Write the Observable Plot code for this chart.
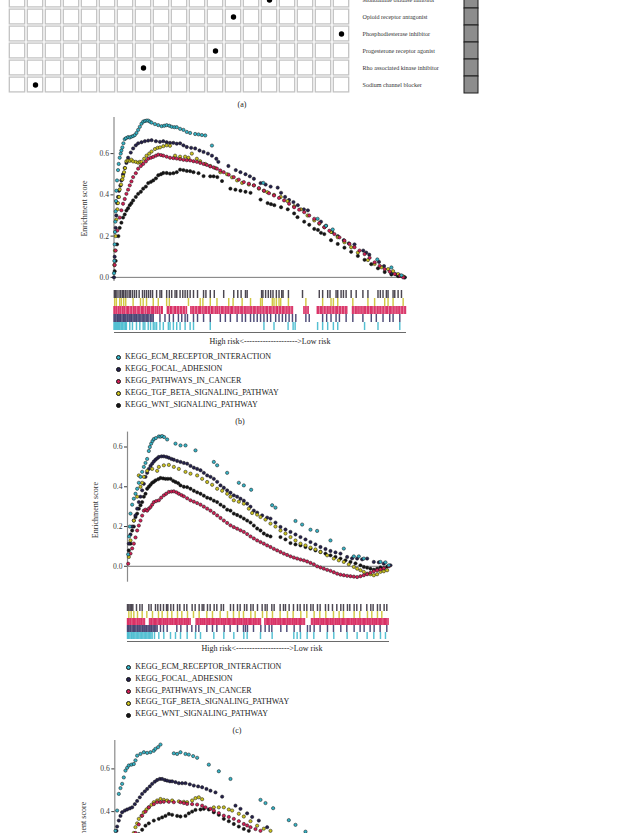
<!DOCTYPE html>
<html><head><meta charset="utf-8">
<script src="https://cdn.jsdelivr.net/npm/d3@7"></script>
<script src="https://cdn.jsdelivr.net/npm/@observablehq/plot@0.6"></script>
<style>
body{margin:0;background:#fff;}
#page{position:relative;width:620px;height:833px;overflow:hidden;font-family:"Liberation Serif",serif;color:#222;}
.abs{position:absolute;}
.lbl{position:absolute;font-size:8px;white-space:nowrap;transform:translate(-50%,-50%);}
.leg{position:absolute;font-size:8px;white-space:nowrap;line-height:1;}
.leg i{position:absolute;width:3px;height:3px;border-radius:50%;border:0.5px solid #111;}
</style></head><body><div id="page"></div>
<script>
// ---------- panel (a): drug / mechanism matrix ----------
const drugCols = ["D01","D02","D03","D04","D05","D06","D07","D08","D09","D10","D11","D12","D13","D14","D15","D16","D17","D18","D19"];
const moaRows = ["Monoamine oxidase inhibitor","Opioid receptor antagonist","Phosphodiesterase inhibitor","Progesterone receptor agonist","Rho associated kinase inhibitor","Sodium channel blocker"];
const moaHitCol = ["D15","D13","D19","D12","D08","D02"];

// ---------- gene sets ----------
const setNames = ["KEGG_ECM_RECEPTOR_INTERACTION","KEGG_FOCAL_ADHESION","KEGG_PATHWAYS_IN_CANCER","KEGG_TGF_BETA_SIGNALING_PATHWAY","KEGG_WNT_SIGNALING_PATHWAY"];
const setColors = ["#36b3c6","#25214c","#d21f55","#cbc21f","#151515"];
const barColors = ["#34b4c9","#2d2a5e","#d3124f","#c9bd22","#2a2430"];
const drawOrder = [4,1,3,2,0];

// ---------- panel (b) running enrichment scores: [rank, ES] ----------
const b_ECM = [[0,0.02],[1,0.08],[2,0.16],[3,0.22],[4,0.27],[5,0.32],[6,0.37],[7,0.42],[9,0.47],[12,0.52],[14,0.55],[17,0.58],[20,0.6],[22,0.615],[25,0.63],[28,0.65],[32,0.67],[36,0.675],[42,0.68],[47,0.678],[52,0.682],[57,0.685],[62,0.69],[67,0.70],[72,0.715],[77,0.73],[82,0.745],[87,0.755],[92,0.758],[97,0.76],[102,0.76],[107,0.755],[112,0.75],[122,0.743],[132,0.738],[142,0.733],[150,0.735],[157,0.738],[165,0.735],[172,0.73],[180,0.728],[187,0.728],[197,0.72],[207,0.715],[217,0.705],[227,0.70],[242,0.695],[252,0.693],[262,0.69],[272,0.688],[292,0.639],[445,0.458],[607,0.284],[632,0.25],[652,0.232],[785,0.087],[827,0.048],[857,0.01]];
const b_FOCAL = [[0,0.0],[2,0.1],[5,0.24],[7,0.3],[9,0.36],[12,0.39],[15,0.42],[19,0.445],[22,0.47],[27,0.5],[32,0.53],[37,0.555],[42,0.58],[50,0.605],[57,0.625],[65,0.64],[72,0.65],[82,0.655],[92,0.66],[102,0.663],[112,0.665],[125,0.66],[137,0.657],[147,0.66],[157,0.655],[167,0.652],[177,0.652],[187,0.648],[197,0.65],[207,0.64],[217,0.632],[230,0.628],[242,0.625],[255,0.615],[267,0.608],[280,0.6],[292,0.59],[305,0.575],[311,0.56],[341,0.54],[363,0.52],[377,0.51],[392,0.5],[405,0.49],[417,0.478],[437,0.457],[452,0.45],[467,0.44],[488,0.435],[498,0.41],[510,0.39],[522,0.375],[535,0.365],[548,0.35],[566,0.33],[578,0.325],[617,0.27],[632,0.25],[650,0.22],[667,0.2],[685,0.18],[700,0.165],[717,0.16],[743,0.13],[752,0.12],[761,0.11],[790,0.075],[805,0.055],[827,0.02],[840,0.015],[852,0.008],[866,0.0]];
const b_PATH = [[2,0.06],[5,0.13],[10,0.227],[17,0.29],[22,0.325],[27,0.357],[32,0.38],[37,0.405],[42,0.425],[47,0.446],[52,0.465],[57,0.486],[65,0.505],[72,0.527],[80,0.54],[87,0.55],[95,0.562],[102,0.575],[110,0.58],[117,0.584],[125,0.59],[132,0.595],[140,0.593],[147,0.59],[157,0.585],[167,0.58],[177,0.578],[187,0.576],[197,0.573],[207,0.57],[217,0.568],[227,0.567],[237,0.563],[247,0.56],[257,0.555],[267,0.55],[277,0.545],[287,0.538],[297,0.533],[307,0.527],[317,0.518],[327,0.51],[342,0.498],[357,0.486],[372,0.474],[387,0.462],[402,0.454],[417,0.446],[432,0.433],[447,0.42],[462,0.408],[477,0.397],[492,0.385],[507,0.373],[522,0.357],[537,0.34],[552,0.328],[567,0.316],[582,0.3],[597,0.284],[612,0.263],[627,0.243],[642,0.226],[657,0.21],[672,0.194],[687,0.178],[702,0.162],[717,0.146],[732,0.13],[747,0.113],[762,0.095],[777,0.073],[792,0.056],[807,0.04],[822,0.028],[837,0.016],[852,0.008],[862,0.0]];
const b_TGF = [[1,0.06],[3,0.13],[5,0.2],[7,0.28],[10,0.33],[12,0.36],[15,0.39],[17,0.426],[21,0.45],[25,0.475],[27,0.49],[30,0.51],[33,0.53],[37,0.563],[42,0.566],[47,0.565],[52,0.57],[57,0.562],[65,0.56],[72,0.556],[77,0.56],[82,0.56],[90,0.575],[97,0.59],[105,0.6],[112,0.61],[122,0.622],[130,0.628],[137,0.63],[147,0.636],[157,0.64],[167,0.638],[182,0.59],[197,0.585],[212,0.585],[222,0.58],[232,0.6],[247,0.575],[257,0.563],[272,0.55],[287,0.54],[302,0.53],[317,0.51],[337,0.5],[352,0.485],[367,0.47],[382,0.458],[402,0.45],[417,0.446],[432,0.43],[447,0.42],[457,0.413],[477,0.4],[497,0.39],[517,0.37],[537,0.345],[557,0.33],[577,0.3],[597,0.276],[612,0.26],[627,0.243],[647,0.22],[667,0.195],[687,0.17],[707,0.146],[727,0.12],[757,0.084],[777,0.065],[797,0.049],[817,0.04],[832,0.03],[847,0.016],[862,0.005]];
const b_WNT = [[2,0.03],[5,0.08],[9,0.16],[13,0.2],[17,0.24],[22,0.265],[27,0.29],[32,0.305],[37,0.324],[42,0.335],[47,0.35],[52,0.36],[57,0.373],[65,0.39],[72,0.405],[80,0.415],[87,0.43],[95,0.44],[102,0.457],[110,0.463],[117,0.47],[125,0.48],[132,0.495],[140,0.5],[147,0.506],[157,0.506],[167,0.503],[177,0.505],[187,0.51],[197,0.522],[207,0.52],[217,0.516],[227,0.515],[237,0.51],[252,0.505],[267,0.491],[287,0.49],[297,0.49],[308,0.486],[322,0.467],[347,0.43],[362,0.425],[377,0.42],[392,0.415],[407,0.41],[437,0.377],[458,0.36],[468,0.355],[478,0.35],[498,0.34],[518,0.33],[537,0.31],[547,0.292],[567,0.27],[582,0.255],[597,0.235],[608,0.23],[617,0.216],[627,0.21],[647,0.18],[667,0.162],[687,0.144],[707,0.124],[727,0.104],[747,0.085],[767,0.064],[787,0.044],[807,0.026],[827,0.014],[847,0.006],[867,0.0]];

// ---------- panel (b) hit positions (barcode) ----------
const bc_b_ECM = [0,3,6,9,12,15,18,22,26,30,34,37,47,55,67,77,87,92,102,109,117,122,127,137,147,162,167,177,187,197,212,227,237,287,447,477,519,534,540,607,622,637,654,667,747,787,852];
const bc_b_FOCAL = [0,3,6,10,13,17,20,24,28,31,35,39,42,46,50,53,57,61,65,68,72,76,80,84,88,92,96,100,104,109,113,117,137,152,165,177,192,202,212,219,237,249,267,287,317,332,347,367,382,392,407,417,427,437,447,457,467,482,492,502,512,522,532,542,572,582,622,634,647,662,672,692,712,742,767,782,802,822,832,852];
const bc_b_PATH = [0,3,7,12,15,19,24,27,31,36,40,43,48,52,57,60,64,69,73,77,82,85,89,94,99,102,106,111,115,118,123,128,131,136,141,144,159,163,168,171,176,181,184,189,193,198,202,207,211,216,229,233,237,242,246,251,255,258,263,268,272,276,281,285,290,293,298,303,307,310,315,320,324,328,333,337,341,346,350,353,358,363,367,371,376,380,384,389,393,397,402,406,410,415,419,423,428,432,436,441,445,450,454,458,463,467,471,476,480,485,488,493,497,502,506,510,515,519,523,528,532,566,570,575,579,606,610,615,619,623,628,632,637,641,645,650,654,659,663,667,672,676,681,685,690,694,711,715,720,724,728,733,737,742,746,750,755,759,764,768,772,777,781,786,790,794,799,803,808,812,816,821,825,829,834,838,843,847,851,856,860,865,869];
const bc_b_TGF = [2,7,17,22,29,35,57,79,87,97,117,132,157,165,222,257,265,287,307,342,355,382,407,437,442,472,477,484,492,497,520,572,622,647,654,667,712,757,777,807,817,832,862];
const bc_b_WNT = [1,5,9,15,20,25,29,34,39,45,49,55,61,67,75,85,91,97,103,109,115,127,137,142,157,165,172,182,187,197,205,212,219,227,237,249,267,274,287,299,327,357,369,379,392,397,440,444,452,460,467,474,484,492,500,504,520,562,612,622,637,644,662,667,677,684,692,707,722,742,757,787,794,802,812,817,832,837,847,857];

// ---------- panel (c) running enrichment scores ----------
const c_ECM = [[2,0.06],[5,0.15],[7,0.2],[9,0.265],[14,0.31],[19,0.34],[24,0.365],[29,0.39],[34,0.42],[39,0.45],[44,0.475],[49,0.5],[54,0.52],[59,0.54],[64,0.58],[67,0.6],[71,0.617],[75,0.63],[79,0.64],[85,0.645],[94,0.653],[99,0.652],[104,0.655],[110,0.65],[119,0.638],[144,0.617],[159,0.608],[174,0.608],[204,0.583],[259,0.525],[269,0.508],[299,0.47],[334,0.42],[349,0.407],[371,0.385],[434,0.307],[444,0.295],[504,0.228],[524,0.21],[549,0.184],[569,0.178],[609,0.13],[649,0.089],[679,0.05],[694,0.05],[709,0.039],[759,0.022],[774,0.02],[784,0.005]];
const c_FOCAL = [[4,0.114],[9,0.16],[14,0.2],[19,0.23],[24,0.256],[29,0.29],[34,0.323],[39,0.35],[44,0.382],[49,0.415],[54,0.45],[59,0.47],[64,0.49],[69,0.505],[74,0.516],[79,0.527],[84,0.536],[89,0.543],[94,0.55],[102,0.553],[109,0.553],[117,0.55],[124,0.546],[132,0.54],[139,0.536],[149,0.53],[159,0.525],[169,0.52],[179,0.516],[189,0.505],[199,0.496],[209,0.49],[219,0.483],[229,0.47],[239,0.457],[249,0.45],[259,0.44],[269,0.425],[279,0.407],[289,0.395],[299,0.382],[309,0.37],[319,0.357],[329,0.35],[339,0.34],[349,0.33],[359,0.315],[369,0.3],[379,0.28],[389,0.27],[404,0.256],[419,0.245],[429,0.24],[444,0.22],[459,0.198],[474,0.185],[489,0.173],[504,0.16],[519,0.147],[534,0.135],[549,0.122],[564,0.11],[579,0.097],[594,0.087],[609,0.077],[624,0.07],[639,0.064],[659,0.047],[674,0.04],[689,0.039],[704,0.035],[719,0.039],[739,0.022],[754,0.02],[769,0.013],[789,0.005]];
const c_PATH = [[2,0.013],[9,0.064],[14,0.09],[19,0.114],[24,0.145],[29,0.18],[34,0.205],[39,0.23],[44,0.255],[49,0.28],[54,0.285],[59,0.28],[64,0.29],[69,0.298],[74,0.31],[79,0.323],[86,0.328],[94,0.332],[101,0.345],[109,0.357],[116,0.365],[124,0.374],[132,0.376],[139,0.377],[147,0.372],[154,0.365],[162,0.358],[169,0.352],[179,0.342],[189,0.332],[199,0.325],[209,0.318],[219,0.31],[229,0.3],[239,0.29],[249,0.28],[259,0.268],[269,0.256],[279,0.243],[289,0.23],[299,0.218],[309,0.206],[319,0.197],[329,0.189],[339,0.181],[349,0.173],[359,0.162],[369,0.15],[379,0.14],[389,0.13],[399,0.122],[409,0.114],[419,0.105],[429,0.097],[439,0.088],[449,0.08],[459,0.072],[469,0.064],[479,0.057],[489,0.05],[499,0.044],[509,0.039],[519,0.034],[529,0.03],[539,0.024],[549,0.017],[559,0.01],[569,0.0],[579,-0.006],[589,-0.012],[599,-0.018],[609,-0.023],[619,-0.03],[629,-0.037],[639,-0.042],[649,-0.045],[659,-0.048],[669,-0.05],[679,-0.052],[689,-0.054],[699,-0.05],[709,-0.045],[719,-0.04],[729,-0.032],[739,-0.025],[749,-0.02],[759,-0.015],[769,-0.01],[784,0.0]];
const c_TGF = [[4,0.047],[9,0.13],[19,0.23],[29,0.35],[34,0.457],[39,0.4],[44,0.42],[49,0.45],[59,0.48],[74,0.49],[89,0.48],[94,0.5],[109,0.508],[124,0.51],[139,0.5],[154,0.49],[174,0.475],[189,0.466],[209,0.457],[224,0.44],[239,0.424],[254,0.41],[269,0.39],[284,0.38],[299,0.365],[309,0.35],[319,0.332],[334,0.325],[349,0.315],[364,0.29],[374,0.268],[389,0.26],[399,0.248],[414,0.235],[429,0.215],[444,0.2],[459,0.18],[474,0.165],[489,0.147],[504,0.13],[519,0.114],[534,0.105],[549,0.094],[564,0.085],[579,0.072],[599,0.055],[619,0.039],[634,0.03],[649,0.022],[664,0.01],[679,-0.003],[689,-0.012],[699,-0.02],[709,-0.028],[719,-0.037],[729,-0.04],[739,-0.045],[749,-0.04],[759,-0.028],[769,-0.025],[779,-0.02]];
const c_WNT = [[4,0.08],[9,0.114],[14,0.18],[19,0.2],[24,0.248],[29,0.265],[34,0.29],[39,0.307],[44,0.323],[49,0.35],[54,0.365],[59,0.39],[64,0.4],[69,0.41],[74,0.42],[79,0.425],[84,0.432],[92,0.438],[99,0.444],[107,0.442],[114,0.44],[121,0.44],[129,0.44],[137,0.43],[144,0.424],[152,0.418],[159,0.407],[169,0.4],[179,0.398],[189,0.39],[199,0.38],[209,0.372],[219,0.365],[229,0.355],[239,0.345],[249,0.34],[259,0.33],[269,0.323],[279,0.31],[289,0.3],[299,0.285],[309,0.28],[319,0.265],[329,0.258],[339,0.25],[349,0.24],[359,0.23],[369,0.22],[379,0.205],[389,0.19],[399,0.18],[409,0.165],[419,0.156],[429,0.15],[459,0.147],[474,0.135],[489,0.117],[504,0.11],[519,0.105],[534,0.097],[549,0.089],[564,0.08],[579,0.072],[594,0.064],[609,0.055],[624,0.047],[639,0.039],[654,0.03],[669,0.022],[684,0.015],[699,0.005],[709,-0.003],[719,-0.007],[729,-0.012],[739,-0.017],[749,-0.012],[759,-0.005],[769,-0.01],[779,-0.002]];

// ---------- panel (c) hit positions ----------
const bc_c_ECM = [0,3,7,11,14,18,22,26,30,34,38,42,46,50,54,58,62,66,70,74,81,94,109,129,144,159,179,204,219,259,289,319,349,359,399,434,499,509,519,539,559,599,619,659,689,719,739,759,774];
const bc_c_FOCAL = [0,3,7,10,14,18,21,25,29,32,36,40,44,47,51,55,58,62,66,70,73,77,81,85,89,99,108,119,148,160,179,193,205,214,238,255,268,290,308,330,348,354,360,378,400,413,425,433,460,478,500,518,540,548,560,578,600,618,640,658,680,698,710,728,740,758,778];
const bc_c_PATH = [0,3,7,10,14,18,21,25,29,32,36,40,43,47,51,66,70,73,77,81,84,88,92,96,99,103,107,110,114,118,121,125,129,133,136,140,144,147,151,155,158,162,166,170,173,177,181,184,188,206,210,214,218,221,225,229,232,236,240,244,247,251,255,258,262,266,269,273,277,281,284,288,292,295,299,303,306,310,314,318,321,325,329,332,336,340,343,347,351,355,358,362,366,369,373,377,380,384,388,392,395,399,412,416,420,423,427,431,434,438,442,445,449,453,457,460,464,468,471,475,479,482,486,490,494,497,501,505,508,512,516,519,523,527,531,552,556,560,563,567,571,574,578,582,586,589,593,597,600,604,608,611,615,619,623,626,630,634,637,641,645,648,652,656,660,663,667,671,674,678,682,685,689,693,697,700,704,708,711,715,719,722,726,730,734,737,741,745,748,752,756,759,763,767,771,774,778,782];
const bc_c_TGF = [4,11,19,30,44,58,75,93,104,120,133,150,163,180,198,215,238,255,278,300,318,335,348,370,383,405,418,435,458,480,497,520,538,560,577,595,618,635,648,680,697,720,733,750,763];
const bc_c_WNT = [0,4,8,12,16,27,37,44,64,71,84,91,99,108,117,121,130,138,150,157,170,178,194,203,215,224,229,240,248,260,268,281,288,309,318,330,338,351,358,370,377,390,404,413,419,433,440,458,468,474,485,498,510,518,530,538,550,557,570,578,594,603,615,628,640,648,660,667,680,688,700,718,730,737,750,758,770,778];

// ---------- panel (d) running enrichment scores (top part only visible) ----------
const d_ECM = [[0,0.1],[1,0.2],[2,0.31],[7,0.405],[12,0.483],[17,0.51],[22,0.53],[27,0.56],[32,0.592],[37,0.605],[42,0.616],[50,0.62],[57,0.623],[62,0.64],[67,0.662],[77,0.67],[87,0.678],[97,0.675],[107,0.678],[117,0.685],[122,0.694],[130,0.702],[137,0.714],[177,0.673],[187,0.67],[197,0.678],[212,0.67],[222,0.667],[235,0.66],[247,0.652],[282,0.62],[312,0.589],[347,0.553],[437,0.455],[452,0.44],[475,0.416],[522,0.36],[542,0.338],[572,0.306]];
const d_FOCAL = [[0,0.1],[1,0.2],[3,0.28],[5,0.31],[7,0.33],[12,0.358],[17,0.38],[22,0.397],[30,0.405],[37,0.41],[45,0.415],[52,0.42],[60,0.435],[67,0.45],[75,0.467],[82,0.483],[90,0.495],[97,0.506],[105,0.518],[112,0.53],[120,0.54],[127,0.548],[135,0.553],[142,0.553],[150,0.548],[157,0.545],[165,0.542],[172,0.542],[182,0.538],[192,0.533],[202,0.533],[212,0.533],[225,0.528],[237,0.522],[250,0.518],[262,0.514],[275,0.506],[287,0.498],[302,0.49],[322,0.47],[362,0.428],[377,0.413],[397,0.392],[412,0.375],[432,0.358],[457,0.327]];
const d_PATH = [[62,0.3],[72,0.34],[82,0.381],[92,0.4],[102,0.42],[117,0.435],[127,0.444],[137,0.444],[147,0.446],[162,0.446],[177,0.444],[197,0.444],[207,0.44],[217,0.436],[232,0.435],[247,0.433],[262,0.428],[272,0.42],[287,0.413],[297,0.405],[312,0.393],[327,0.381],[342,0.375],[357,0.366],[372,0.355],[387,0.342],[397,0.335],[407,0.327],[422,0.318],[437,0.31]];
const d_TGF = [[57,0.3],[62,0.327],[67,0.345],[72,0.366],[80,0.38],[87,0.397],[95,0.41],[102,0.42],[110,0.432],[117,0.444],[127,0.452],[137,0.459],[147,0.455],[157,0.452],[172,0.452],[192,0.448],[207,0.446],[217,0.444],[232,0.452],[242,0.463],[252,0.467],[262,0.458],[297,0.42],[312,0.42],[327,0.42],[342,0.41],[352,0.405],[372,0.39],[387,0.377],[407,0.355],[427,0.334],[447,0.32],[467,0.31]];
const d_WNT = [[72,0.295],[82,0.315],[92,0.334],[102,0.345],[117,0.358],[132,0.366],[142,0.373],[152,0.38],[162,0.389],[172,0.385],[187,0.38],[197,0.377],[212,0.38],[222,0.392],[232,0.4],[242,0.408],[257,0.41],[267,0.413],[282,0.41],[297,0.397],[312,0.385],[327,0.366],[342,0.355],[357,0.342],[372,0.33],[387,0.319],[402,0.31]];

const yTicks = [0, 0.2, 0.4, 0.6];
const riskLabel = "High risk<-------------------->Low risk";

// ================= drawing =================
const page = document.getElementById("page");
const baseStyle = {background:"transparent", overflow:"visible", fontFamily:"'Liberation Serif', serif", color:"#3a3a3a"};
function place(node, left, top){ const d=document.createElement("div"); d.className="abs"; d.style.left=left+"px"; d.style.top=top+"px"; d.appendChild(node); page.appendChild(d); return d; }
function label(text, x, y){ const d=document.createElement("div"); d.className="lbl"; d.style.left=x+"px"; d.style.top=y+"px"; d.textContent=text; page.appendChild(d); }
function hline(x1, x2, y){ const d=document.createElement("div"); d.className="abs"; Object.assign(d.style,{left:x1+"px",top:y+"px",width:(x2-x1)+"px",height:"1px",background:"#6a6a6a"}); page.appendChild(d); }

// panel (a)
const cells = [];
for (const r of moaRows) for (const c of drugCols) cells.push({r, c});
const hits = moaRows.map((r,i) => ({r, c: moaHitCol[i]}));
place(Plot.plot({
  width: 620, height: 125, marginLeft: 0, marginRight: 263, marginTop: 10.3, marginBottom: 10.6,
  style: {...baseStyle, fontSize: "6.1px", color:"#333"},
  x: {domain: drugCols, padding: 0, axis: null},
  y: {domain: moaRows, padding: 0},
  marks: [
    Plot.cell(cells, {x: "c", y: "r", fill: "white", stroke: "#c3c3c3", strokeWidth: 1.3, insetLeft: 1.3, insetRight: 1.3, insetTop: 1.1, insetBottom: 1.1}),
    Plot.dot(hits, {x: "c", y: "r", r: 2.7, fill: "#000"}),
    Plot.axisY({anchor: "right", tickSize: 0, tickPadding: 5, label: null})
  ]
}), 0, -20);
place(Plot.plot({
  width: 15, height: 125, marginLeft: 0.5, marginRight: 0.5, marginTop: 10.3, marginBottom: 10.6,
  style: baseStyle,
  x: {domain: ["group"], padding: 0, axis: null},
  y: {domain: moaRows, padding: 0, axis: null},
  marks: [Plot.cell(moaRows, {x: () => "group", y: d => d, fill: "#8d8d8d", stroke: "#1c1c1c", strokeWidth: 1})]
}), 462.5, -20);
label("(a)", 242, 104);

// scatter helper
function scatter(series, o){
  const marks = [
    Plot.ruleY([0], {stroke: "#7a7a7a", strokeWidth: 1}),
    Plot.ruleX([0], {stroke: "#8a8a8a", strokeWidth: 1.2}),
    Plot.axisY({ticks: yTicks, tickFormat: d3.format(".1f"), tickSize: 3, tickPadding: 2, label: null}),
    Plot.text(["Enrichment score"], {frameAnchor: "left", textAnchor: "middle", lineAnchor: "middle", rotate: -90, dx: o.ldx, dy: o.ldy, fill: "#333", fontSize: 8})
  ];
  for (const i of drawOrder) {
    marks.push(Plot.dot(series[i].map(([r, v]) => ({r, v})), {x: "r", y: "v", r: 1.65, fill: setColors[i], stroke: "#111", strokeWidth: 0.5}));
  }
  return place(Plot.plot({
    width: 620, height: o.h, marginLeft: o.ml, marginRight: o.mr, marginTop: o.mt, marginBottom: o.mb,
    style: {...baseStyle, fontSize: "7.6px"},
    x: {domain: [0, o.xmax], axis: null},
    y: {domain: o.ydom},
    marks
  }), 0, o.top);
}
function barcode(rows, o){
  const ticks = [];
  rows.forEach((arr, i) => arr.forEach(r => ticks.push({r, s: setNames[i], i})));
  place(Plot.plot({
    width: 620, height: o.h, marginLeft: o.ml, marginRight: o.mr, marginTop: 0, marginBottom: 0,
    style: baseStyle,
    x: {domain: [0, o.xmax], axis: null},
    y: {domain: [4,3,2,1,0].map(i => setNames[i]), padding: 0, axis: null},
    marks: [Plot.tickX(ticks, {x: "r", y: "s", stroke: d => barColors[d.i], strokeWidth: 1.45, strokeOpacity: 0.84})]
  }), 0, o.top);
}
function legend(x, y0, step){
  setNames.forEach((n, i) => {
    const d = document.createElement("div"); d.className = "leg";
    d.style.left = (x + 7) + "px"; d.style.top = (y0 + i*step - 4) + "px";
    d.textContent = n;
    const dot = document.createElement("i");
    dot.style.background = setColors[i]; dot.style.left = "-9px"; dot.style.top = "2.4px";
    d.appendChild(dot); page.appendChild(d);
  });
}

// panel (b)
scatter([b_ECM, b_FOCAL, b_PATH, b_TGF, b_WNT], {top: 105, h: 185, ml: 113.5, mr: 214, mt: 12, mb: 9, xmax: 872, ydom: [-0.02, 0.775], ldx: -30, ldy: 9});
barcode([bc_b_ECM, bc_b_FOCAL, bc_b_PATH, bc_b_TGF, bc_b_WNT], {top: 288, h: 44, ml: 113.5, mr: 214, xmax: 872});
hline(113.5, 406, 332);
label(riskLabel, 270, 341);
legend(118, 357, 12);
label("(b)", 240, 421);

// panel (c)
scatter([c_ECM, c_FOCAL, c_PATH, c_TGF, c_WNT], {top: 425, h: 165, ml: 127, mr: 229.7, mt: 6.6, mb: 8.3, xmax: 790, ydom: [-0.08, 0.675], ldx: -32, ldy: 3});
barcode([bc_c_ECM, bc_c_FOCAL, bc_c_PATH, bc_c_TGF, bc_c_WNT], {top: 602, h: 38, ml: 127, mr: 229.7, xmax: 790});
hline(127, 388.5, 640.5);
label(riskLabel, 262, 648);
legend(128.3, 666.7, 11.9);
label("(c)", 237, 730);

// panel (d) (cut off by the page bottom)
scatter([d_ECM, d_FOCAL, d_PATH, d_TGF, d_WNT], {top: 733, h: 200, ml: 114.3, mr: 215, mt: 7, mb: 32.2, xmax: 872, ydom: [-0.02, 0.733], ldx: -31, ldy: 9});
</script></body></html>
